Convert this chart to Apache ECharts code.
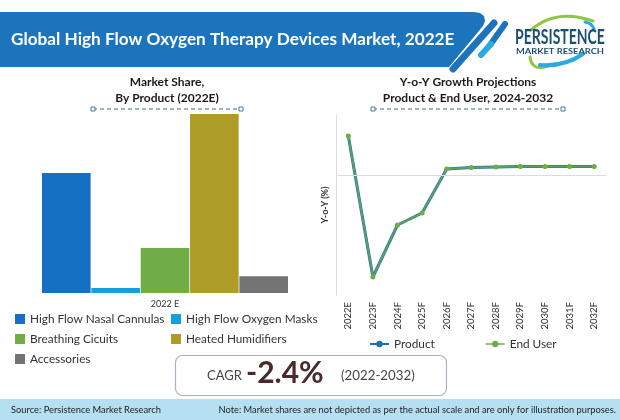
<!DOCTYPE html>
<html>
<head>
<meta charset="utf-8">
<style>
    html, body { margin: 0; padding: 0; background: #fff; }
    #chart { width: 620px; height: 420px; }
</style>
<script src="https://cdn.jsdelivr.net/npm/echarts@6/dist/echarts.min.js"></script>
</head>
<body>
<div id="chart"></div>
<script>
const font = 'Lato';

// left chart: market share by product
const shareCategory = ['2022 E'];
const shareNames = ['High Flow Nasal Cannulas', 'High Flow Oxygen Masks', 'Breathing Cicuits', 'Heated Humidifiers', 'Accessories'];
const shareValues = [32.8, 1.4, 12.3, 48.9, 4.6];
const shareColors = ['#1570c4', '#13a0dc', '#70ad47', '#ad9c28', '#737373'];

// right chart: y-o-y growth
const years = ['2022E', '2023F', '2024F', '2025F', '2026F', '2027F', '2028F', '2029F', '2030F', '2031F', '2032F'];
const productValues = [3.9, -10.2, -5.0, -3.8, 0.6, 0.75, 0.8, 0.85, 0.85, 0.85, 0.85];
const endUserValues = [3.9, -10.2, -5.0, -3.8, 0.6, 0.75, 0.8, 0.85, 0.85, 0.85, 0.85];

const chart = echarts.init(document.getElementById('chart'), null, { renderer: 'canvas' });

function text(x, y, str, size, color, extra) {
    return {
        type: 'text',
        z: 10,
        x: x,
        y: y,
        scaleX: extra && extra.scaleX || 1,
        style: {
            text: str,
            fill: color,
            font: (extra && extra.weight || 'normal') + ' ' + size + 'px ' + font,
            align: extra && extra.align || 'left',
            verticalAlign: 'middle'
        }
    };
}

function rule(x1, x2, y) {
    const square = x => ({
        type: 'rect', shape: { x: x - 2, y: y - 2, width: 4, height: 4 },
        style: { fill: '#fff', stroke: '#3f7f9f', lineWidth: 1 }
    });
    return [
        { type: 'line', shape: { x1: x1, y1: y, x2: x2, y2: y }, style: { stroke: '#4a6a80', lineWidth: 1, lineDash: [4, 3] } },
        square(x1), square(x2)
    ];
}

function stripe(x1, y1, x2, y2, width, color) {
    return { type: 'line', shape: { x1: x1, y1: y1, x2: x2, y2: y2 }, style: { stroke: color, lineWidth: width, lineCap: 'round' } };
}

function arc(x1, y1, cx, cy, x2, y2, width, color) {
    return {
        type: 'bezierCurve', shape: { x1: x1, y1: y1, cpx1: cx, cpy1: cy, x2: x2, y2: y2 },
        style: { stroke: color, lineWidth: width, fill: null, lineCap: 'round' }
    };
}

const decorations = [
    // banner
    {
        type: 'polygon',
        shape: { points: [[0, 12], [474, 12], [480, 13], [484, 16], [485, 21], [483, 26], [449, 67], [0, 67]] },
        style: { fill: '#1c75bc' }
    },
    stripe(453, 69, 494, 23, 7, '#1c75bc'),
    stripe(490, 45, 505, 24, 6, '#1c75bc'),
    stripe(481, 55, 491, 44, 6, '#29abe2'),
    text(11, 39, 'Global High Flow Oxygen Therapy Devices Market, 2022E', 17.2, '#fff', { weight: 'bold' }),

    // logo
    arc(531, 30, 556, 8, 593, 21, 3, '#8dc63f'),
    arc(585, 22, 592, 23, 594, 29, 3, '#29abe2'),
    arc(530, 57, 532, 72, 548, 66, 3, '#8dc63f'),
    arc(540, 65, 564, 67, 583, 54, 4, '#29abe2'),
    text(560, 38, 'PERSISTENCE', 20, '#1b4f72', { align: 'center', weight: 'bold', scaleX: 0.7 }),
    text(560, 51, 'MARKET RESEARCH', 8, '#1b4f72', { align: 'center', weight: 'bold', scaleX: 1.16 }),

    // chart headings
    text(167, 82, 'Market Share,', 12, '#1a1a1a', { align: 'center', weight: 'bold' }),
    text(167, 98, 'By Product (2022E)', 12, '#1a1a1a', { align: 'center', weight: 'bold' }),
    text(468, 82, 'Y-o-Y Growth Projections', 12, '#1a1a1a', { align: 'center', weight: 'bold' }),
    text(468, 98, 'Product & End User, 2024-2032', 12, '#1a1a1a', { align: 'center', weight: 'bold' }),
    ...rule(93, 241, 109),
    ...rule(373, 563, 109),

    // CAGR box
    { type: 'rect', shape: { x: 175.5, y: 355.5, width: 271, height: 40, r: 7 }, style: { fill: '#fff', stroke: '#a9b4bd', lineWidth: 1.2 } },
    text(207, 376, 'CAGR', 13, '#444'),
    text(246, 373, '-2.4%', 30, '#4a2a2c', { weight: 'bold' }),
    text(341, 376, '(2022-2032)', 13.3, '#444'),

    // footer
    { type: 'rect', shape: { x: 0, y: 399, width: 620, height: 21 }, style: { fill: '#b5e0f2' } },
    text(11, 410, 'Source: Persistence Market Research', 9.3, '#222'),
    text(616, 410, 'Note: Market shares are not depicted as per the actual scale and are only for illustration purposes.', 9.3, '#222', { align: 'right' })
];

const barSeries = shareNames.map((name, i) => ({
    name: name,
    type: 'bar',
    xAxisIndex: 0,
    yAxisIndex: 0,
    barGap: '1.5%',
    barCategoryGap: 0,
    itemStyle: { color: shareColors[i] },
    data: [shareValues[i]]
}));

const legendText = { fontFamily: font, fontSize: 11.8, color: '#333' };

chart.setOption({
    animation: false,
    textStyle: { fontFamily: font },
    graphic: decorations,
    grid: [
        { left: 42, top: 114, width: 246, height: 179 },
        { left: 336, top: 115, width: 270.5, height: 180 }
    ],
    xAxis: [
        {
            type: 'category', gridIndex: 0, data: shareCategory,
            axisLine: { show: false }, axisTick: { show: false },
            axisLabel: { color: '#333', fontSize: 9, margin: 7 }
        },
        {
            type: 'category', gridIndex: 1, data: years, boundaryGap: true,
            axisLine: { onZero: false, show: false }, axisTick: { show: false },
            axisLabel: { rotate: 90, color: '#333', fontSize: 9.5, margin: 7, interval: 0 }
        }
    ],
    yAxis: [
        { type: 'value', gridIndex: 0, min: 0, max: 48.9, show: false },
        {
            type: 'value', gridIndex: 1, min: -12, max: 6,
            name: 'Y-o-Y (%)', nameLocation: 'middle', nameGap: 6, nameRotate: 90,
            nameTextStyle: { color: '#333', fontSize: 9, fontWeight: 'bold' },
            axisLine: { show: true, lineStyle: { color: '#dcdcdc' } },
            axisTick: { show: false }, axisLabel: { show: false }, splitLine: { show: false }
        }
    ],
    legend: [
        {
            left: 10, top: 308, orient: 'vertical', itemWidth: 10, itemHeight: 10, itemGap: 8,
            icon: 'rect', textStyle: legendText,
            data: [shareNames[0], shareNames[2], shareNames[4]]
        },
        {
            left: 166, top: 308, orient: 'vertical', itemWidth: 10, itemHeight: 10, itemGap: 8,
            icon: 'rect', textStyle: legendText,
            data: [shareNames[1], shareNames[3]]
        },
        {
            left: 364, top: 333, itemWidth: 19, itemHeight: 8, itemGap: 50,
            textStyle: legendText,
            data: ['Product', 'End User']
        }
    ],
    series: [
        ...barSeries,
        {
            name: 'Product', type: 'line', xAxisIndex: 1, yAxisIndex: 1,
            data: productValues, symbol: 'circle', symbolSize: 4,
            lineStyle: { color: '#1f6fb5', width: 3 }, itemStyle: { color: '#1f6fb5' },
            markLine: {
                silent: true, symbol: 'none', label: { show: false },
                lineStyle: { color: '#dcdcdc', width: 1, type: 'solid' },
                data: [{ yAxis: 0 }]
            }
        },
        {
            name: 'End User', type: 'line', xAxisIndex: 1, yAxisIndex: 1,
            data: endUserValues, symbol: 'circle', symbolSize: 5,
            lineStyle: { color: '#70ad47', width: 2, opacity: 0.75 }, itemStyle: { color: '#70ad47' }
        }
    ]
});
</script>
</body>
</html>
